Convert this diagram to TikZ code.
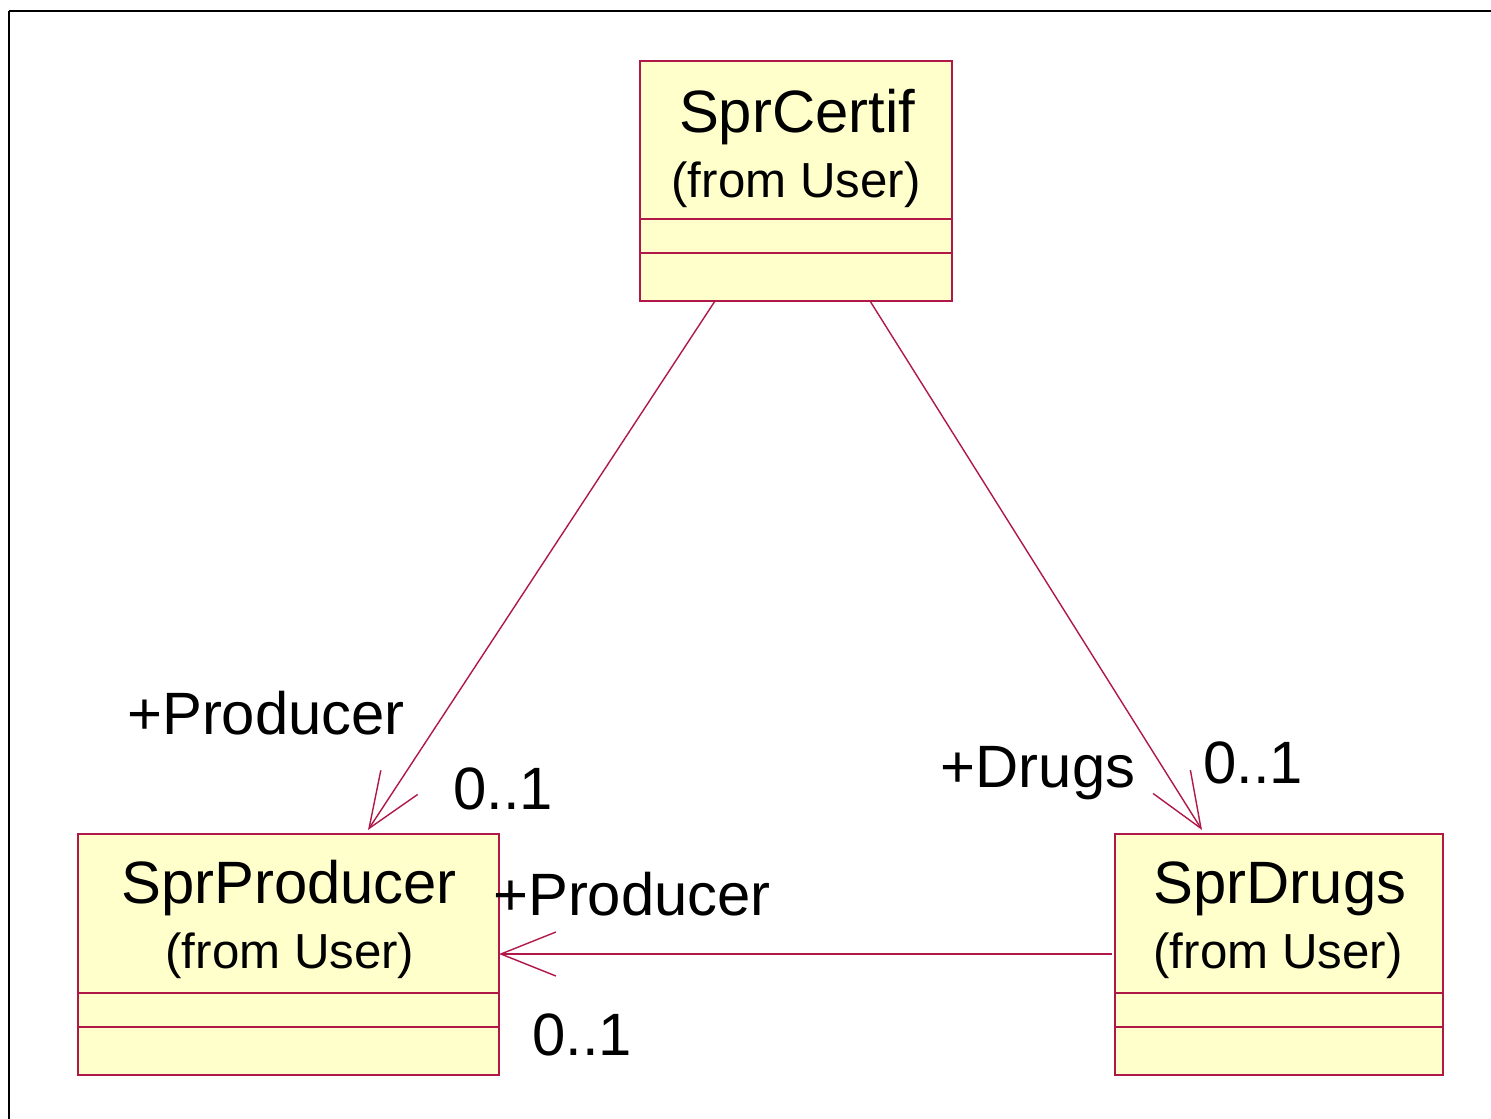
\documentclass[tikz,border=0pt]{standalone}
\usepackage{fontspec}
\setmainfont{Liberation Sans}
\usetikzlibrary{arrows.meta}
\definecolor{umlline}{RGB}{176,24,72}
\definecolor{umlfill}{RGB}{255,255,204}
\tikzset{
  classbox/.style={draw=umlline, fill=umlfill, line width=0.45pt},
  divider/.style={draw=umlline, line width=0.45pt},
  assoc/.style={draw=umlline, line width=0.4pt, -{Straight Barb[length=0.55cm, width=0.44cm, line width=0.4pt]}},
  cname/.style={anchor=base, inner sep=0pt, font=\fontsize{17}{20}\selectfont},
  cfrom/.style={anchor=base, inner sep=0pt, font=\fontsize{14}{17}\selectfont},
  rolelbl/.style={anchor=base, inner sep=0pt, font=\fontsize{17}{20}\selectfont},
}
\begin{document}
\begin{tikzpicture}[x=0.01cm,y=-0.01cm]
\useasboundingbox (0,0) rectangle (1491,1119);
% outer frame
\draw[line width=0.6pt] (9,11) -- (1500,11);
\draw[line width=0.6pt] (9,11) -- (9,1130);

% SprCertif
\path[classbox] (640,61) rectangle (952,301);
\draw[divider] (640,219) -- (952,219);
\draw[divider] (640,253) -- (952,253);
\node[cname] (certifname) at (797,133) {SprCertif};
\node[cfrom] (certiffrom) at (796,198) {(from User)};
\coordinate (certifL) at (715,301);
\coordinate (certifR) at (870,301);

% SprProducer
\path[classbox] (78,834) rectangle (499,1075);
\draw[divider] (78,993) -- (499,993);
\draw[divider] (78,1027) -- (499,1027);
\node[cname] (prodname) at (289,903) {SprProducer};
\node[cfrom] (prodfrom) at (290,968) {(from User)};
\coordinate (prodT) at (368,830);
\coordinate (prodR) at (499,954);

% SprDrugs
\path[classbox] (1115,834) rectangle (1443,1075);
\draw[divider] (1115,993) -- (1443,993);
\draw[divider] (1115,1027) -- (1443,1027);
\node[cname] (drugsname) at (1280,903) {SprDrugs};
\node[cfrom] (drugsfrom) at (1278,968) {(from User)};
\coordinate (drugsT) at (1202,830);
\coordinate (drugsL) at (1112,954);

% associations
\draw[assoc] (certifL) -- (prodT);
\draw[assoc] (certifR) -- (drugsT);
\draw[assoc] (drugsL) -- (prodR);

% labels
\node[rolelbl] (l1) at (266,735) {+Producer};
\node[rolelbl] (m1) at (503,809) {0..1};
\node[rolelbl] (l2) at (1038,787) {+Drugs};
\node[rolelbl] (m2) at (1253,783) {0..1};
\node[rolelbl] (l3) at (632,915) {+Producer};
\node[rolelbl] (m3) at (582,1055) {0..1};
\end{tikzpicture}
\end{document}
